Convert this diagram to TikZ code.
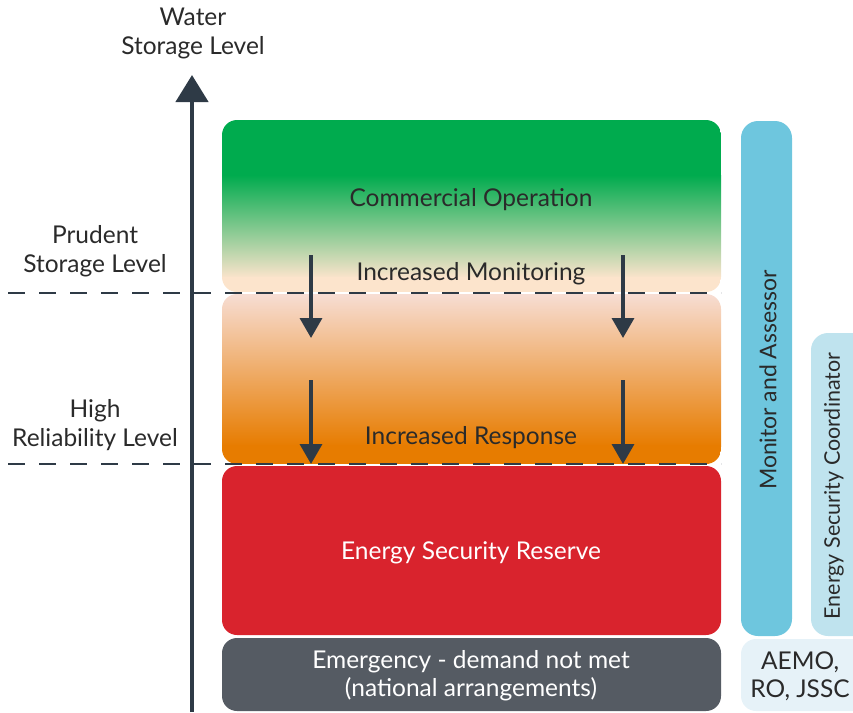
\documentclass[tikz,border=0pt]{standalone}
\usepackage{fontspec}
\setmainfont{Lato}
\usetikzlibrary{arrows.meta}
\definecolor{axisc}{HTML}{2E3A46}
\definecolor{txt}{HTML}{2A2A2A}
\definecolor{grn}{HTML}{00AB4E}
\definecolor{peach}{HTML}{FCE4CC}
\definecolor{pinkc}{HTML}{F7DDD3}
\definecolor{midor}{HTML}{ECA17A}
\definecolor{orng}{HTML}{E77C00}
\definecolor{redc}{HTML}{D9232D}
\definecolor{grayc}{HTML}{555B63}
\definecolor{blue1}{HTML}{6EC6DE}
\definecolor{blue2}{HTML}{BFE3EE}
\definecolor{blue3}{HTML}{E6F2F8}
\begin{document}
\begin{tikzpicture}[x=1pt,y=-1pt,
  lbl/.style={font=\fontsize{24.5}{29}\selectfont, text=txt, align=center, inner sep=0pt},
  boxlbl/.style={font=\fontsize{24.5}{28}\selectfont, text=txt, align=center, inner sep=0pt},
  dline/.style={axisc, line width=1.6pt, dash pattern=on 17pt off 14pt},
  darr/.style={axisc, line width=3.5pt, -{Triangle[width=22pt,length=20pt]}},
  rc/.style={rounded corners=15pt}]
\useasboundingbox (0,0) rectangle (853,712);
% axis
\coordinate (ab) at (192,712);
\coordinate (at) at (192,75);
\draw[axisc, line width=4.5pt, -{Triangle[width=32pt,length=27pt]}] (ab) -- (at);
\node[lbl] (water) at (193,33) {Water\\Storage Level};
% top box with gradient
\begin{scope}
\clip[rc] (222,120) rectangle (721,292);
\fill[grn] (222,120) rectangle (721,176);
\shade[top color=grn, bottom color=peach] (222,175) rectangle (721,278);
\fill[peach] (222,277) rectangle (721,292);
\end{scope}
\node[boxlbl] (comm) at (471,200) {Commercial Operation};
\node[boxlbl] (mon) at (471,274) {Increased Monitoring};
% orange box
\begin{scope}
\clip[rc] (222,294) rectangle (721,464);
\shade[top color=pinkc, middle color=midor, bottom color=orng] (222,294) rectangle (721,446);
\fill[orng] (222,445) rectangle (721,464);
\end{scope}
\node[boxlbl] (resp) at (471,438) {Increased Response};
% red box
\fill[redc, rc] (222,466) rectangle (721,635);
\node[boxlbl, text=white] (esr) at (471,553) {Energy Security Reserve};
% gray box
\fill[grayc, rc] (222,638) rectangle (721,711);
\node[boxlbl, text=white] (emer) at (471,676) {Emergency - demand not met\\(national arrangements)};
% side bars
\fill[blue1, rounded corners=17pt] (741,121) rectangle (792,636);
\node[boxlbl, rotate=90, font=\fontsize{23}{28}\selectfont] (monass) at (768,380) {Monitor and Assessor};
\fill[blue2, rounded corners=17pt] (811,333) rectangle (875,636);
\node[boxlbl, rotate=90, font=\fontsize{21.5}{26}\selectfont] (esc) at (834,486) {Energy Security Coordinator};
\fill[blue3, rounded corners=15pt] (741,639) rectangle (875,711);
\node[boxlbl] (aemo) at (800,676) {AEMO,\\RO, JSSC};
% level labels
\node[lbl] (prud) at (95,251) {Prudent\\Storage Level};
\node[lbl] (high) at (95,425) {High\\Reliability Level};
% dashed lines
\coordinate (d1a) at (8,293); \coordinate (d1b) at (721,293);
\coordinate (d2a) at (8,464); \coordinate (d2b) at (721,464);
\draw[dline] (d1a) -- (d1b);
\draw[dline] (d2a) -- (d2b);
% arrows
\coordinate (a1s) at (311,255); \coordinate (a1e) at (311,338);
\coordinate (a2s) at (623,255); \coordinate (a2e) at (623,338);
\coordinate (a3s) at (311,380); \coordinate (a3e) at (311,464);
\coordinate (a4s) at (623,380); \coordinate (a4e) at (623,464);
\draw[darr] (a1s) -- (a1e);
\draw[darr] (a2s) -- (a2e);
\draw[darr] (a3s) -- (a3e);
\draw[darr] (a4s) -- (a4e);
\end{tikzpicture}
\end{document}
